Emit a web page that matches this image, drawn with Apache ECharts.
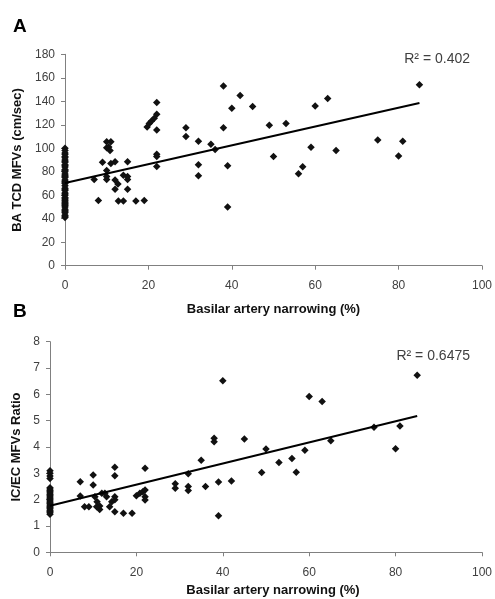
<!DOCTYPE html>
<html>
<head>
<meta charset="utf-8">
<script src="https://cdn.jsdelivr.net/npm/echarts@6/dist/echarts.min.js"></script>
<style>html,body{margin:0;padding:0;background:#fff}#c{width:495px;height:599px}</style>
</head>
<body>
<div id="c"></div>
<script>
// ---- Data ----
const xTicksPct = [0, 20, 40, 60, 80, 100];
const xNameA = 'Basilar artery narrowing (%)';
const yNameA = 'BA TCD MFVs (cm/sec)';
const yNameB = 'IC/EC MFVs Ratio';
const r2TextA = 'R² = 0.402';
const r2TextB = 'R² = 0.6475';

// Panel A: patients with 0% narrowing (MFV values)
const zeroNarrowA = [41,42,43,45,46,47,48,50,51,52,53,54,55,56,57,58,60,61,62,64,65,66,68,70,71,72,73,75,76,77,78,80,81,82,84,85,86,88,89,90,92,93,95,96,98,100];
// Panel A: other patients [narrowing %, MFV]
const pointsA = [[7,73.5],[8,55.5],[9,88],[10,105.5],[11,105.5],[10,100.5],[10.5,101],[10.8,98],[10,81],[10,76],[10,73.5],[11,87],[12,88.5],[12,73],[12,65],[12.7,69.5],[12.8,55],[14,55],[14,77],[15,88.5],[15,76],[15,73.5],[15,65],[17,55],[19,55.5],[19.7,118],[20.2,121],[20.7,123],[21.4,125.5],[22,139],[22,129],[22,115.5],[22,95],[22,93],[22,84.5],[29,117.5],[29,110],[32,106],[32,86],[32,76.5],[35,103.5],[36,99],[38,153],[38,117.5],[40,134],[39,85],[39,50],[42,145],[45,135.5],[49,119.5],[50,93],[53,121],[56,78.3],[57,84.3],[59,100.8],[60,136],[63,142.3],[65,98],[75,107],[80,93.4],[81,106],[85,154]];
const trendA = [[0,70.5],[85,138.5]];

// Panel B: patients with 0% narrowing (ratio values)
const zeroNarrowB = [3.1,3.0,2.9,2.8,2.45,2.4,2.35,2.3,2.25,2.2,2.15,2.1,2.05,2.0,1.95,1.9,1.85,1.8,1.75,1.7,1.65,1.6,1.55,1.5,1.45];
// Panel B: other patients [narrowing %, ratio]
const pointsB = [[7,2.68],[7,2.14],[8,1.73],[9,1.73],[10,2.56],[10,2.94],[10.4,2.11],[10.9,1.92],[11.5,1.76],[11.5,1.63],[10.8,1.73],[12,2.24],[12.7,2.24],[13.1,2.11],[13.8,1.73],[14.3,1.92],[15,3.23],[15,2.91],[15,2.11],[15,2.0],[15,1.54],[17,1.48],[19,1.48],[20,2.15],[20.8,2.24],[21.5,2.3],[22,3.19],[22,2.37],[22,2.11],[22,1.99],[29,2.6],[29,2.43],[32,2.98],[32,2.5],[32,2.35],[35,3.5],[36,2.5],[38,4.33],[38,4.2],[39,2.67],[39,1.39],[40,6.52],[42,2.71],[45,4.3],[49,3.03],[50,3.92],[53,3.41],[56,3.56],[57,3.04],[59,3.88],[60,5.92],[63,5.73],[65,4.24],[75,4.75],[80,3.93],[81,4.8],[85,6.73]];
const trendB = [[0,1.77],[85,5.18]];

// ---- Chart ----
const axisCol = '#808080';
const labelCol = '#404040';
const font = 'Liberation Sans, Arial, sans-serif';
const scatterA = zeroNarrowA.map(v => [0, v]).concat(pointsA);
const scatterB = zeroNarrowB.map(v => [0, v]).concat(pointsB);

function xAxisCfg(gridIndex, nameGap, namePad) {
  return {
    type: 'value', gridIndex, min: 0, max: 100, interval: 20,
    name: xNameA, nameLocation: 'middle', nameGap,
    nameTextStyle: {fontFamily: font, fontWeight: 'bold', fontSize: 13, color: '#111', padding: namePad},
    axisLine: {show: true, lineStyle: {color: axisCol, width: 1}},
    axisTick: {show: true, length: 4, inside: false, lineStyle: {color: axisCol}},
    axisLabel: {fontFamily: font, fontSize: 12, color: labelCol, margin: 14},
    splitLine: {show: false}
  };
}
function yAxisCfg(gridIndex, max, interval, name, nameGap) {
  return {
    type: 'value', gridIndex, min: 0, max, interval,
    name, nameLocation: 'middle', nameGap,
    nameTextStyle: {fontFamily: font, fontWeight: 'bold', fontSize: 13, color: '#111'},
    axisLine: {show: true, lineStyle: {color: axisCol, width: 1}},
    axisTick: {show: true, length: 4, lineStyle: {color: axisCol}},
    axisLabel: {fontFamily: font, fontSize: 12, color: labelCol, margin: 10},
    splitLine: {show: false}
  };
}

const chart = echarts.init(document.getElementById('c'), null, {renderer: 'canvas'});
chart.setOption({
  backgroundColor: '#fff',
  animation: false,
  grid: [
    {left: 65, top: 54.3, width: 418, height: 211.4},
    {left: 50, top: 341.7, width: 433, height: 210.6}
  ],
  xAxis: [xAxisCfg(0, 37, [0,0,0,0]), xAxisCfg(1, 32, [0,0,0,14])],
  yAxis: [yAxisCfg(0, 180, 20, yNameA, 40), yAxisCfg(1, 8, 1, yNameB, 25)],
  graphic: [
    {type: 'text', left: 13, top: 17, style: {text: 'A', font: 'bold 19px ' + font, fill: '#000'}},
    {type: 'text', left: 13, top: 302, style: {text: 'B', font: 'bold 19px ' + font, fill: '#000'}},
    {type: 'text', x: 470, y: 59, style: {text: r2TextA, font: '14px ' + font, fill: labelCol, textAlign: 'right', textVerticalAlign: 'middle'}},
    {type: 'text', x: 470, y: 356, style: {text: r2TextB, font: '14px ' + font, fill: labelCol, textAlign: 'right', textVerticalAlign: 'middle'}}
  ],
  series: [
    {type: 'scatter', xAxisIndex: 0, yAxisIndex: 0, data: scatterA, symbol: 'diamond', symbolSize: 7.5, itemStyle: {color: '#111', opacity: 1}},
    {type: 'line', xAxisIndex: 0, yAxisIndex: 0, data: trendA, symbol: 'none', lineStyle: {color: '#000', width: 2}},
    {type: 'scatter', xAxisIndex: 1, yAxisIndex: 1, data: scatterB, symbol: 'diamond', symbolSize: 7.5, itemStyle: {color: '#111', opacity: 1}},
    {type: 'line', xAxisIndex: 1, yAxisIndex: 1, data: trendB, symbol: 'none', lineStyle: {color: '#000', width: 2}}
  ]
});
</script>
</body>
</html>
